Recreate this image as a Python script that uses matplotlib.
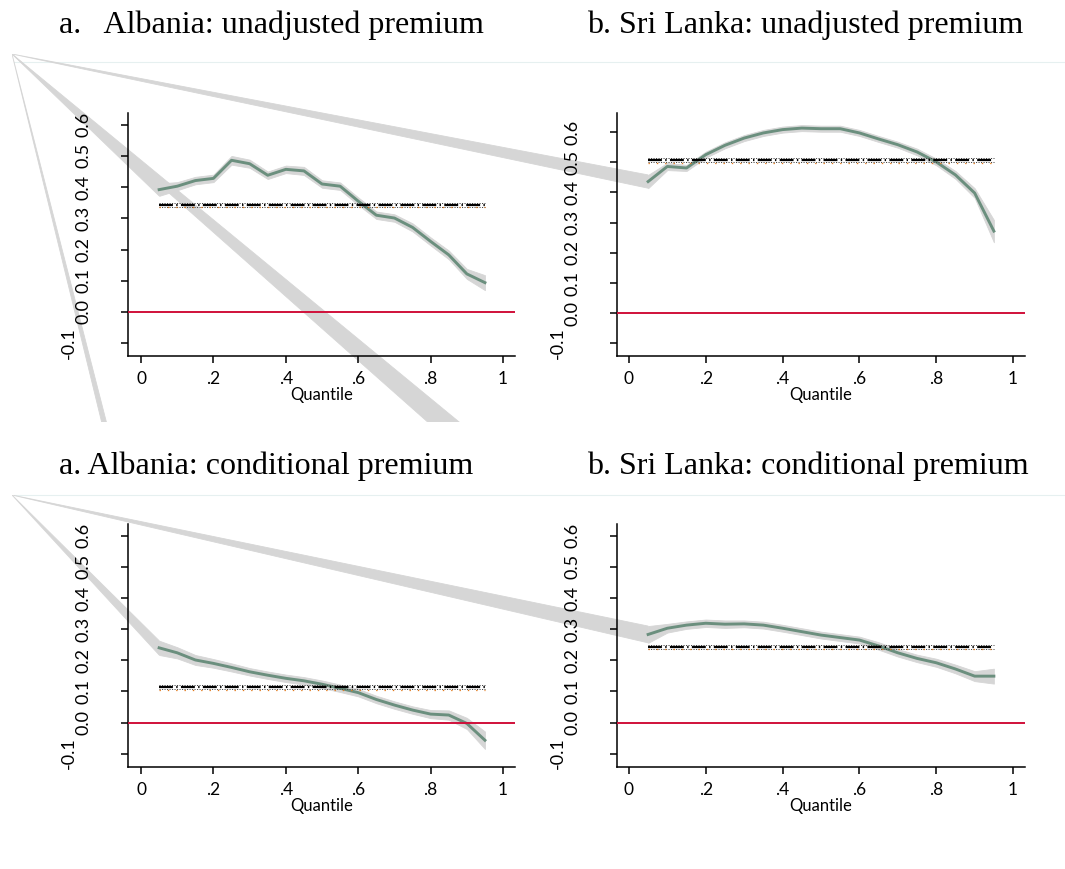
import matplotlib
matplotlib.use("Agg")
import matplotlib.pyplot as plt
from matplotlib.patches import Polygon
from matplotlib.lines import Line2D
from matplotlib.transforms import Bbox, TransformedBbox, ScaledTranslation

plt.rcParams["lines.scale_dashes"] = False

# ---------------- data ----------------
quantiles = [0.05, 0.10, 0.15, 0.20, 0.25, 0.30, 0.35, 0.40, 0.45, 0.50,
             0.55, 0.60, 0.65, 0.70, 0.75, 0.80, 0.85, 0.90, 0.95]

alb_unadj = [0.392, 0.403, 0.421, 0.428, 0.486, 0.475, 0.438, 0.457, 0.452, 0.410,
             0.403, 0.355, 0.310, 0.301, 0.271, 0.226, 0.183, 0.122, 0.094]
alb_unadj_hw = [0.020, 0.013, 0.012, 0.012, 0.014, 0.013, 0.012, 0.012, 0.013, 0.012,
                0.012, 0.012, 0.012, 0.012, 0.013, 0.013, 0.014, 0.016, 0.024]
alb_unadj_ols = 0.344

sl_unadj = [0.436, 0.486, 0.481, 0.525, 0.556, 0.580, 0.597, 0.608, 0.613, 0.611,
            0.611, 0.597, 0.577, 0.558, 0.534, 0.501, 0.458, 0.398, 0.272]
sl_unadj_hw = [0.022, 0.012, 0.010, 0.010, 0.010, 0.010, 0.010, 0.010, 0.010, 0.010,
               0.010, 0.010, 0.010, 0.010, 0.011, 0.011, 0.013, 0.016, 0.037]
sl_unadj_ols = 0.506

alb_cond = [0.240, 0.224, 0.201, 0.190, 0.177, 0.163, 0.152, 0.142, 0.134, 0.123,
            0.110, 0.096, 0.074, 0.056, 0.040, 0.027, 0.024, -0.003, -0.057]
alb_cond_hw = [0.023, 0.018, 0.016, 0.014, 0.013, 0.012, 0.012, 0.012, 0.012, 0.012,
               0.012, 0.012, 0.012, 0.012, 0.012, 0.013, 0.015, 0.018, 0.028]
alb_cond_ols = 0.114

sl_cond = [0.283, 0.303, 0.313, 0.319, 0.316, 0.317, 0.313, 0.303, 0.292, 0.281,
           0.273, 0.265, 0.246, 0.224, 0.206, 0.192, 0.172, 0.149, 0.149]
sl_cond_hw = [0.027, 0.014, 0.012, 0.012, 0.012, 0.011, 0.011, 0.011, 0.011, 0.011,
              0.011, 0.011, 0.012, 0.012, 0.012, 0.013, 0.014, 0.016, 0.024]
sl_cond_ols = 0.244

titles = ["a.   Albania: unadjusted premium", "b. Sri Lanka: unadjusted premium",
          "a. Albania: conditional premium", "b. Sri Lanka: conditional premium"]
x_ticks = [0, 0.2, 0.4, 0.6, 0.8, 1.0]
x_tick_labels = ["0", ".2", ".4", ".6", ".8", "1"]
y_ticks = [-0.1, 0.0, 0.1, 0.2, 0.3, 0.4, 0.5, 0.6]
y_tick_labels = ["-0.1", "0.0", "0.1", "0.2", "0.3", "0.4", "0.5", "0.6"]
x_label = "Quantile"

# ---------------- style ----------------
W, H = 1065, 869
LINE_C = "#6b8f7e"
BAND_C = "#d6d6d6"
ZERO_C = "#d0103a"
TICK_FONT = "Lato"
TITLE_FONT = "Liberation Serif"
DASHDOT = (0, (10, 2.4, 1.0, 2.4))
DOTS = (0, (0.8, 1.0))

fig = plt.figure(figsize=(W / 100, H / 100), dpi=100)
fig.patch.set_facecolor("white")


def pxbox(l, t, r, b):
    return [l / W, 1 - b / H, (r - l) / W, (b - t) / H]


panels = [
    dict(est=alb_unadj, hw=alb_unadj_hw, ols=alb_unadj_ols, box=(128, 113, 515, 356),
         xlim=(-0.036, 1.033), ylim=(-0.141, 0.6375), title=titles[0], tx=59, ty=33, grp=0),
    dict(est=sl_unadj, hw=sl_unadj_hw, ols=sl_unadj_ols, box=(617, 113, 1025, 356),
         xlim=(-0.031, 1.031), ylim=(-0.1415, 0.663), title=titles[1], tx=587, ty=33, grp=0),
    dict(est=alb_cond, hw=alb_cond_hw, ols=alb_cond_ols, box=(128, 524, 515, 767),
         xlim=(-0.036, 1.033), ylim=(-0.143, 0.638), title=titles[2], tx=59, ty=474, grp=1),
    dict(est=sl_cond, hw=sl_cond_hw, ols=sl_cond_ols, box=(617, 524, 1025, 767),
         xlim=(-0.031, 1.031), ylim=(-0.143, 0.638), title=titles[3], tx=587, ty=474, grp=1),
]

axes = []
for p in panels:
    ax = fig.add_axes(pxbox(*p["box"]))
    ax.set_facecolor("none")
    lo = [e - h for e, h in zip(p["est"], p["hw"])]
    hi = [e + h for e, h in zip(p["est"], p["hw"])]
    p["lo"], p["hi"] = lo, hi
    ax.fill_between(quantiles, lo, hi, color=BAND_C, lw=0.6, edgecolor=BAND_C, zorder=1)
    ax.plot(quantiles, p["est"], color=LINE_C, lw=2.1, zorder=3, solid_joinstyle="round")
    ax.axhline(0, color=ZERO_C, lw=1.4, zorder=4)
    # OLS estimate with its (narrow) interval
    q0, q1 = quantiles[0], quantiles[-1]
    ax.plot([q0, q1], [p["ols"] + 0.0065] * 2, color="#444444", lw=0.7,
            linestyle=DOTS, zorder=5)
    ax.plot([q0, q1], [p["ols"] - 0.0065] * 2, color="#444444", lw=0.7,
            linestyle=DOTS, zorder=5)
    ax.plot([q0, q1], [p["ols"] - 0.009] * 2, color="#e07b20", lw=0.9,
            linestyle=(0, (1, 5)), zorder=5)
    ax.plot([q0, q1], [p["ols"]] * 2, color="black", lw=1.6,
            linestyle=DASHDOT, zorder=6)
    ax.set_xlim(*p["xlim"])
    ax.set_ylim(*p["ylim"])
    for s in ("top", "right"):
        ax.spines[s].set_visible(False)
    for s in ("left", "bottom"):
        ax.spines[s].set_linewidth(1.1)
        ax.spines[s].set_color("black")
    ax.set_xticks(x_ticks)
    ax.set_xticklabels(x_tick_labels, fontfamily=TICK_FONT, fontsize=12.5)
    ax.set_yticks(y_ticks)
    ax.set_yticklabels(y_tick_labels, fontfamily=TICK_FONT, fontsize=13,
                       rotation=90, va="center", ha="right")
    ax.tick_params(axis="both", direction="out", length=5, width=1.1, color="black")
    ax.tick_params(axis="x", pad=6)
    ax.tick_params(axis="y", pad=21)
    lab0 = ax.get_yticklabels()[0]
    lab0.set_transform(lab0.get_transform() + ScaledTranslation(-15 / 100, 0, fig.dpi_scale_trans))
    ax.set_xlabel(x_label, fontfamily=TICK_FONT, fontsize=12, labelpad=0)
    fig.text(p["tx"] / W, 1 - p["ty"] / H, p["title"], fontfamily=TITLE_FONT,
             fontsize=23, va="baseline", ha="left")
    axes.append(ax)

# ------------- rendering artefacts of the original export -------------
# (bands drawn with a stray vertex at each image's top-left corner)
anchors = {0: (12 / W, 1 - 54 / H), 1: (12 / W, 1 - 495 / H)}
clips = {0: Bbox([[12 / W, 1 - 422 / H], [1, 1 - 54 / H]]),
         1: Bbox([[12 / W, 0], [1, 1 - 495 / H]])}
inv = fig.transFigure.inverted()
for p, ax in zip(panels, axes):
    g = p["grp"]
    pts = ax.transData.transform([(quantiles[0], p["hi"][0]), (quantiles[0], p["lo"][0])])
    fp = inv.transform(pts)
    poly = Polygon([anchors[g], tuple(fp[0]), tuple(fp[1])], closed=True,
                   transform=fig.transFigure, facecolor=BAND_C, edgecolor=BAND_C,
                   lw=0.6, zorder=-1)
    poly.set_clip_box(TransformedBbox(clips[g], fig.transFigure))
    fig.add_artist(poly)

extra = [[(12, 54), (481, 440), (448, 440)], [(12, 54), (106, 440), (111, 440)]]
for tri in extra:
    poly = Polygon([(x / W, 1 - y / H) for x, y in tri], closed=True,
                   transform=fig.transFigure, facecolor=BAND_C, edgecolor=BAND_C,
                   lw=0.6, zorder=-1)
    poly.set_clip_box(TransformedBbox(clips[0], fig.transFigure))
    fig.add_artist(poly)

for yy in (62, 495):
    fig.add_artist(Line2D([14 / W, 1], [1 - yy / H] * 2, color="#e6f0f0", lw=0.8,
                          transform=fig.transFigure, zorder=-2))

fig.savefig("out.png", dpi=100, facecolor="white")
